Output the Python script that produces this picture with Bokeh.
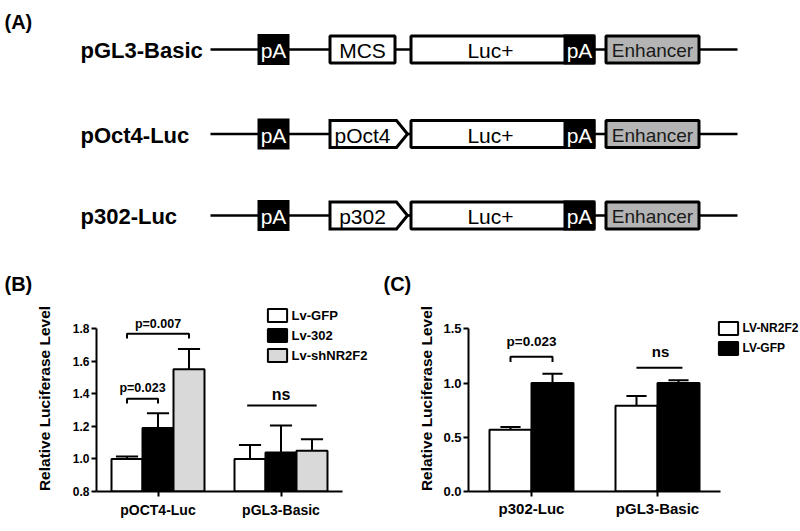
from bokeh.plotting import figure
from bokeh.models import (Range1d, FixedTicker, PrintfTickFormatter, Legend,
                          LegendItem)
from bokeh.layouts import column, row
from bokeh.embed import file_html
from bokeh.resources import INLINE
from bokeh.core.properties import value

FONT = "Liberation Sans"

# ---------------- data ----------------
# Panel A (construct maps)
constructs = ["pGL3-Basic", "pOct4-Luc", "p302-Luc"]
promoters = ["MCS", "pOct4", "p302"]
promoter_is_arrow = [False, True, True]
pa_text = "pA"
luc_text = "Luc+"
enh_text = "Enhancer"
panel_tags = ["(A)", "(B)", "(C)"]

# Panel B
b_categories = ["pOCT4-Luc", "pGL3-Basic"]
b_series = ["Lv-GFP", "Lv-302", "Lv-shNR2F2"]
b_gfp = [1.00, 1.00]
b_gfp_err = [0.015, 0.085]
b_302 = [1.19, 1.04]
b_302_err = [0.09, 0.165]
b_sh = [1.55, 1.05]
b_sh_err = [0.125, 0.07]
b_yticks = [0.8, 1.0, 1.2, 1.4, 1.6, 1.8]
b_pvals = ["p=0.023", "p=0.007"]
b_ns = "ns"

# Panel C
c_categories = ["p302-Luc", "pGL3-Basic"]
c_series = ["LV-NR2F2", "LV-GFP"]
c_nr2f2 = [0.57, 0.79]
c_nr2f2_err = [0.025, 0.09]
c_gfp = [1.00, 1.00]
c_gfp_err = [0.087, 0.027]
c_yticks = [0.0, 0.5, 1.0, 1.5]
c_pval = "p=0.023"
c_ns = "ns"

# ---------------- panel A ----------------
TOP_H = 300
pa = figure(width=800, height=TOP_H, x_range=Range1d(0, 800), y_range=Range1d(TOP_H, 0),
            output_backend="svg", toolbar_location=None, min_border=0,
            x_axis_location=None, y_axis_location=None)
pa.grid.visible = False
pa.outline_line_color = None

ROW_Y = [49, 133.5, 215]
LINE_X = (210, 737)
PA_X = (257, 289)
PROM_X = (328, 396, 407)
LUC_X = (409, 595)
LUC_PA_X = 563
ENH_X = (604, 700)
H = 15.0
LW = 3
h = H - LW / 2

n = len(constructs)
pa.segment(x0=[LINE_X[0]] * n, y0=ROW_Y, x1=[LINE_X[1]] * n, y1=ROW_Y,
           line_color="black", line_width=2.5)
pa.quad(left=[PA_X[0]] * n, right=[PA_X[1]] * n, top=[y - 15.5 for y in ROW_Y],
        bottom=[y + 15.5 for y in ROW_Y], fill_color="black", line_color=None)
for i, y in enumerate(ROW_Y):
    l, b, t = PROM_X
    if promoter_is_arrow[i]:
        pa.patch(x=[l + 1.5, b, t, b, l + 1.5], y=[y - h, y - h, y, y + h, y + h],
                 fill_color="white", line_color="black", line_width=LW, line_join="miter")
    else:
        pa.quad(left=[l + 1.5], right=[b - 1.5], top=[y - h], bottom=[y + h],
                fill_color="white", line_color="black", line_width=LW)
pa.quad(left=[LUC_X[0] + 1.5] * n, right=[LUC_X[1] - 1.5] * n, top=[y - h for y in ROW_Y],
        bottom=[y + h for y in ROW_Y], fill_color="white", line_color="black", line_width=LW)
pa.quad(left=[LUC_PA_X] * n, right=[LUC_X[1]] * n, top=[y - H for y in ROW_Y],
        bottom=[y + H for y in ROW_Y], fill_color="black", line_color=None)
pa.quad(left=[ENH_X[0] + 1.5] * n, right=[ENH_X[1] - 1.5] * n, top=[y - h for y in ROW_Y],
        bottom=[y + h for y in ROW_Y], fill_color="#b4b4b4", line_color="black", line_width=LW)

pa.text(x=[80] * n, y=[y + 1 for y in ROW_Y], text=constructs, text_font=value(FONT),
        text_font_style="bold", text_font_size=value("22px"), text_align="left",
        text_baseline="middle", text_color="black")
pa.text(x=[(PA_X[0] + PA_X[1]) / 2] * n, y=[y + 1 for y in ROW_Y], text=[pa_text] * n,
        text_font=value(FONT), text_font_size=value("21px"), text_align="center",
        text_baseline="middle", text_color="white")
pa.text(x=[362] * n, y=[y + 1 for y in ROW_Y], text=promoters, text_font=value(FONT),
        text_font_size=value("21px"), text_align="center", text_baseline="middle", text_color="black")
pa.text(x=[490] * n, y=[y + 1 for y in ROW_Y], text=[luc_text] * n, text_font=value(FONT),
        text_font_size=value("21px"), text_align="center", text_baseline="middle", text_color="black")
pa.text(x=[(LUC_PA_X + LUC_X[1]) / 2] * n, y=[y + 1 for y in ROW_Y], text=[pa_text] * n,
        text_font=value(FONT), text_font_size=value("21px"), text_align="center",
        text_baseline="middle", text_color="white")
pa.text(x=[(ENH_X[0] + ENH_X[1]) / 2] * n, y=[y + 1 for y in ROW_Y], text=[enh_text] * n,
        text_font=value(FONT), text_font_size=value("19px"), text_align="center",
        text_baseline="middle", text_color="#1a1a1a")
# panel tags (A), (B), (C)
pa.text(x=[4, 4, 383], y=[21.5, 283, 283], text=panel_tags, text_font=value(FONT),
        text_font_style="bold", text_font_size=value("20px"), text_align="left",
        text_baseline="middle", text_color="black")


def style_axes(p, categories, yticks, xbounds, ybounds, xfont, yfont, xstand, ystand):
    for ax in (p.xaxis[0], p.yaxis[0]):
        ax.axis_line_width = 2
        ax.axis_line_color = "black"
        ax.major_tick_line_width = 2
        ax.major_tick_line_color = "black"
        ax.major_tick_out = 5
        ax.major_tick_in = 0
        ax.minor_tick_out = 0
        ax.minor_tick_in = 0
        ax.major_label_text_font = FONT
        ax.major_label_text_font_style = "bold"
        ax.major_label_text_color = "black"
    p.xaxis.ticker = FixedTicker(ticks=list(range(len(categories))))
    p.xaxis.major_label_overrides = {i: c for i, c in enumerate(categories)}
    p.xaxis.bounds = xbounds
    p.xaxis.major_label_text_font_size = xfont
    p.xaxis.major_label_standoff = xstand
    p.yaxis.ticker = FixedTicker(ticks=yticks)
    p.yaxis.formatter = PrintfTickFormatter(format="%.1f")
    p.yaxis.bounds = ybounds
    p.yaxis.major_label_text_font_size = yfont
    p.yaxis.major_label_standoff = 2
    p.yaxis.axis_label = "Relative Luciferase Level"
    p.yaxis.axis_label_text_font = FONT
    p.yaxis.axis_label_text_font_style = "bold"
    p.yaxis.axis_label_text_font_size = "15.5px"
    p.yaxis.axis_label_text_color = "black"
    p.yaxis.axis_label_standoff = ystand
    p.grid.visible = False
    p.outline_line_color = None


def bars(p, vals, errs, offset, width, color, cap, base):
    xs = [i + offset for i in range(len(vals))]
    hi = [v + e for v, e in zip(vals, errs)]
    r = p.vbar(x=xs, top=vals, bottom=base, width=width, fill_color=color,
               line_color="black", line_width=2)
    p.segment(x0=xs, y0=vals, x1=xs, y1=hi, line_color="black", line_width=2)
    p.segment(x0=[x - cap / 2 for x in xs], y0=hi, x1=[x + cap / 2 for x in xs], y1=hi,
              line_color="black", line_width=2)
    return r


def bracket(p, x0, x1, ytop, ybot):
    p.line(x=[x0, x0, x1, x1], y=[ybot, ytop, ytop, ybot], line_color="black",
           line_width=2)


def make_legend(items, loc, size):
    return Legend(items=items, location=loc, glyph_width=24, glyph_height=16,
                  label_height=16, spacing=4, padding=0, margin=0, label_standoff=3,
                  border_line_color=None, background_fill_alpha=0, label_text_font=FONT,
                  label_text_font_style="bold", label_text_font_size=size,
                  label_text_color="black")


BOT_H = 230          # bottom figures span page y 300..530
# ---------------- panel B ----------------
B_L, B_B, B_T, B_PXX, B_PXY = 96, 491, 305, 123.0, 163.0
bx = lambda px: -0.5 + (px - B_L) / B_PXX
by = lambda py: 0.8 + (B_B - py) / B_PXY

pb = figure(width=380, height=BOT_H, x_range=Range1d(-0.5, bx(380)), y_range=Range1d(0.8, by(B_T)),
            output_backend="svg", toolbar_location=None, min_border_left=B_L,
            min_border_right=0, min_border_top=B_T - TOP_H,
            min_border_bottom=TOP_H + BOT_H - B_B)
style_axes(pb, b_categories, b_yticks, (-0.5, 1.5), (0.8, 1.8), "14px", "12px", 5, 17)
BW = 0.252
rb = [bars(pb, b_gfp, b_gfp_err, -BW, BW, "white", 0.18, 0.8),
      bars(pb, b_302, b_302_err, 0.0, BW, "black", 0.18, 0.8),
      bars(pb, b_sh, b_sh_err, BW, BW, "#d9d9d9", 0.18, 0.8)]

bracket(pb, -BW, 0.0, 1.369, 1.34)
bracket(pb, -BW, BW, 1.7675, 1.739)
pb.line(x=[1 - 0.275, 1 + 0.29], y=[1.328, 1.328], line_color="black", line_width=2)
pb.text(x=[-BW / 2, 0.0, 1.0], y=[by(387), by(323), by(394)], text=b_pvals + [b_ns],
        text_font=value(FONT), text_font_style="bold",
        text_font_size=["12.5px", "12.5px", "16px"],
        text_align="center", text_baseline="middle", text_color="black")

pb.add_layout(make_legend([LegendItem(label=s, renderers=[r]) for s, r in zip(b_series, rb)],
                          (264.6 - B_L, B_B - 363), "13px"))

# ---------------- panel C ----------------
C_L, C_B, C_T, C_PXX, C_PXY = 468, 496, 305, 126.0, 111.3
cx = lambda px: -0.5 + (px - C_L) / C_PXX
cy = lambda py: (C_B - py) / C_PXY

pc = figure(width=420, height=BOT_H, x_range=Range1d(-0.5, cx(800)), y_range=Range1d(0.0, cy(C_T)),
            output_backend="svg", toolbar_location=None, min_border_left=C_L - 380,
            min_border_right=0, min_border_top=C_T - TOP_H,
            min_border_bottom=TOP_H + BOT_H - C_B)
style_axes(pc, c_categories, c_yticks, (-0.5, 1.5), (0.0, 1.5), "15px", "13px", 3, 5)
CW = 1 / 3
rc = [bars(pc, c_nr2f2, c_nr2f2_err, -CW / 2, CW, "white", 0.16, 0.0),
      bars(pc, c_gfp, c_gfp_err, CW / 2, CW, "black", 0.16, 0.0)]
bracket(pc, -CW / 2, CW / 2, 1.2426, 1.195)
pc.line(x=[1 - 0.167, 1 + 0.198], y=[1.141, 1.141], line_color="black", line_width=2)
pc.text(x=[0.0, 1.024], y=[cy(342), cy(352)], text=[c_pval, c_ns],
        text_font=value(FONT), text_font_style="bold",
        text_font_size=["13.5px", "15px"],
        text_align="center", text_baseline="middle", text_color="black")

pc.add_layout(make_legend([LegendItem(label=s, renderers=[r]) for s, r in zip(c_series, rc)],
                          (715.6 - C_L, C_B - 361), "12px"))

layout = column(pa, row(pb, pc))
open("out.html", "w").write(file_html(layout, INLINE))
